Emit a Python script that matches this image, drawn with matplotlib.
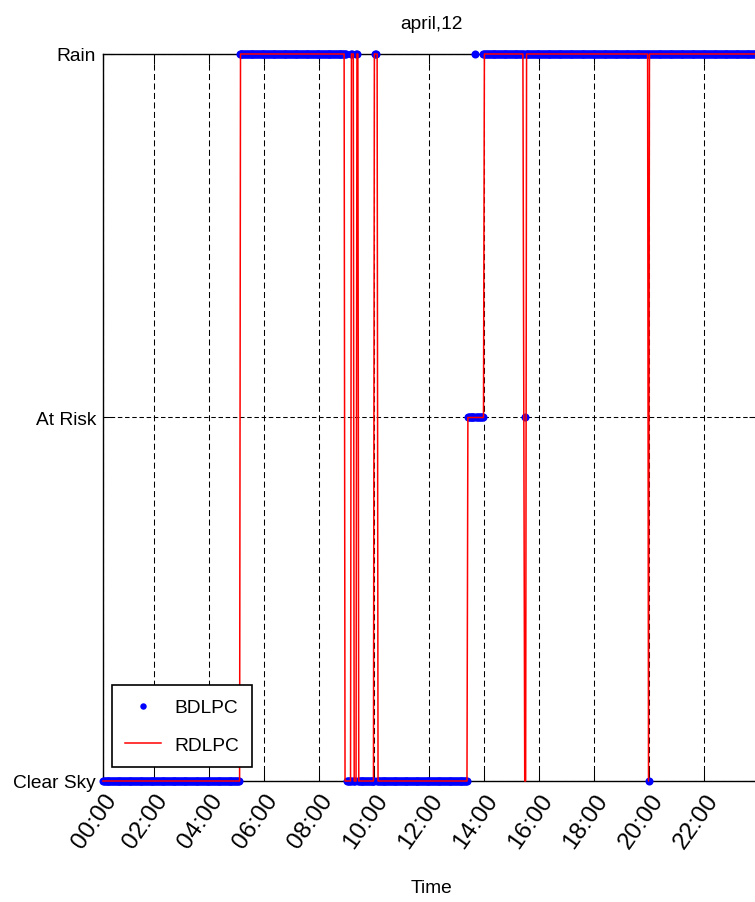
import numpy as np
import matplotlib
matplotlib.use('Agg')
import matplotlib.pyplot as plt

plt.rcParams['font.family'] = ['Liberation Sans', 'DejaVu Sans']

# sky state levels, bottom to top
levels = ['Clear Sky', 'At Risk', 'Rain']

first_record = '00:08'
hour_ticks = [2, 4, 6, 8, 10, 12, 14, 16, 18, 20, 22]
hour_labels = ['00:00', '02:00', '04:00', '06:00', '08:00', '10:00',
               '12:00', '14:00', '16:00', '18:00', '20:00', '22:00']

# each series is stored as state changes: time the state begins, state index
bdlpc_start = ['00:08', '05:06', '09:00', '09:10', '09:14', '09:20', '09:24',
               '10:02', '10:06', '13:24', '13:40', '13:42', '13:58', '15:28',
               '15:30', '19:58', '20:00']
bdlpc_state = [0, 2, 0, 2, 0, 2, 0, 2, 0, 1, 2, 1, 2, 1, 2, 0, 2]

rdlpc_start = ['00:08', '05:08', '08:56', '09:10', '09:16', '09:22', '09:26',
               '10:00', '10:08', '13:24', '14:00', '15:26', '15:28', '15:32',
               '19:58', '20:00']
rdlpc_state = [0, 2, 0, 2, 0, 2, 0, 2, 0, 1, 2, 1, 0, 2, 0, 2]

step_min = 2  # sampling period of the classifier output


def to_min(hhmm):
    h, m = hhmm.split(':')
    return int(h) * 60 + int(m)


def expand(starts, states):
    t = np.arange(to_min(starts[0]), 24 * 60, step_min)
    edges = [to_min(s) for s in starts]
    idx = np.searchsorted(edges, t, side='right') - 1
    return t / 60.0, np.array(states)[idx]


bt, bs = expand(bdlpc_start, bdlpc_state)
rt, rs = expand(rdlpc_start, rdlpc_state)
t0 = to_min(first_record) / 60.0

fig = plt.figure(figsize=(7.55, 9.03), dpi=100)
ax = fig.add_axes([0.1364, 0.1340, 0.8695, 0.8051])

ax.plot(bt, bs, 'o', color='b', ms=5.8, mew=0, clip_on=False, label='BDLPC', zorder=3)
ax.plot(rt, rs, '-', color='r', lw=1.1, clip_on=False, label='RDLPC', zorder=4)

fs = 13.8
ax.set_xlim(t0, 24)
ax.set_ylim(0, 2)
ax.set_yticks([0, 1, 2])
ax.set_yticklabels(levels, fontsize=fs)
ax.set_xticks([t0] + hour_ticks)
ax.set_xticklabels(hour_labels, fontsize=17.5, rotation=55, ha='right', va='top',
                   rotation_mode='anchor')

ax.tick_params(direction='in', length=7, width=0.75, top=True, right=True, colors='k')
ax.tick_params(axis='y', pad=5)
ax.tick_params(axis='x', pad=6)

ax.xaxis.grid(True, color='k', lw=0.75, linestyle=(0, (5.8, 3.3)))
ax.yaxis.grid(True, color='k', lw=0.75, linestyle=(0, (4.3, 2.6)))

for sp in ax.spines.values():
    sp.set_linewidth(1.0)
    sp.set_color('k')

ax.set_xlabel('Time', fontsize=fs, va='center')
ax.xaxis.set_label_coords(0.5, -0.146)
ax.set_title('april,12', fontsize=fs, y=1.042, va='center', pad=0)

leg = ax.legend(loc='lower left', bbox_to_anchor=(0.0137, 0.019), borderaxespad=0,
                fontsize=fs, fancybox=False, framealpha=1, edgecolor='k',
                handlelength=1.85, markerscale=0.8, borderpad=0.7, labelspacing=1.05,
                handletextpad=0.7)
leg.get_frame().set_linewidth(1.2)

fig.savefig('out.png', dpi=100)
